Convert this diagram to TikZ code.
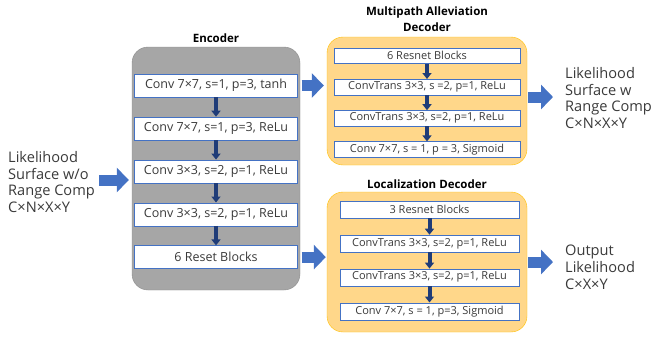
\documentclass[tikz,border=0pt]{standalone}
\usepackage{fontspec}
\setmainfont{Open Sans}
\usetikzlibrary{shapes,arrows,arrows.meta,positioning}
\definecolor{grayfill}{HTML}{A6A6A6}
\definecolor{grayedge}{HTML}{8C8C8C}
\definecolor{orangefill}{HTML}{FFD78A}
\definecolor{orangeedge}{HTML}{FFC000}
\definecolor{boxedge}{HTML}{4472C4}
\definecolor{bigblue}{HTML}{4472C4}
\definecolor{navy}{HTML}{1F3C78}
\definecolor{txt}{HTML}{3A3A3A}
\tikzstyle{group} = [rectangle, rounded corners=16pt, inner sep=0pt]
\tikzstyle{block} = [rectangle, draw=boxedge, fill=white, text=txt,
    text centered, inner sep=0pt, font=\fontsize{11}{12}\selectfont]
\tikzstyle{encblock} = [block, minimum width=163pt, minimum height=23pt,
    font=\fontsize{12.5}{14}\selectfont]
\tikzstyle{title} = [font=\bfseries\fontsize{11.5}{16}\selectfont, align=center]
\tikzstyle{side} = [text=txt, align=left, inner sep=0pt,
    font=\fontsize{14.6}{16.9}\selectfont]
\tikzstyle{flow} = [draw=navy, line width=4pt, -{Triangle[length=6pt,width=9pt]}]
\tikzstyle{big} = [draw=bigblue, line width=11pt, -{Triangle[length=12pt,width=24pt]}]

\begin{document}
\begin{tikzpicture}[x=1pt, y=-1pt, node distance=19.5pt]
    \useasboundingbox (0,0) rectangle (652,338);
    % encoder
    \node [group, fill=grayfill, draw=grayedge, minimum width=168pt,
        minimum height=243pt] (enc) at (216,168.5) {};
    \node [title, above=1pt of enc.north] {Encoder};
    \node [encblock, below=27pt of enc.north] (enc1) {Conv 7×7, s=1, p=3, tanh};
    \node [encblock, below=of enc1] (enc2) {Conv 7×7, s=1, p=3, ReLu};
    \node [encblock, below=of enc2] (enc3) {Conv 3×3, s=2, p=1, ReLu};
    \node [encblock, below=of enc3] (enc4) {Conv 3×3, s=2, p=1, ReLu};
    \node [encblock, below=of enc4] (enc5) {6 Reset Blocks};
    \foreach \a/\b in {enc1/enc2, enc2/enc3, enc3/enc4, enc4/enc5}
        \path [flow] (\a) -- (\b);

    % multipath alleviation decoder
    \node [group, fill=orangefill, draw=orangeedge, minimum width=200pt,
        minimum height=128pt] (mad) at (427,101) {};
    \node [title, above=2pt of mad.north] {Multipath Alleviation\\Decoder};
    \node [block, minimum width=186pt, minimum height=15.5pt,
        below=11pt of mad.north] (mad1) {6 Resnet Blocks};
    \node [block, minimum width=186pt, minimum height=15.5pt,
        below=15.3pt of mad1] (mad2) {ConvTrans 3×3, s =2, p=1, ReLu};
    \node [block, minimum width=186pt, minimum height=15.5pt,
        below=15.3pt of mad2] (mad3) {ConvTrans 3×3, s=2, p=1, ReLu};
    \node [block, minimum width=186pt, minimum height=15.5pt,
        below=15.3pt of mad3] (mad4) {Conv 7×7, s = 1, p = 3, Sigmoid};
    \foreach \a/\b in {mad1/mad2, mad2/mad3, mad3/mad4}
        \path [flow] (\a) -- (\b);

    % localization decoder
    \node [group, fill=orangefill, draw=orangeedge, minimum width=200pt,
        minimum height=140pt] (loc) at (427,262) {};
    \node [title, above=0pt of loc.north] {Localization Decoder};
    \node [block, minimum width=179pt, minimum height=17pt,
        below=9pt of loc.north, xshift=2.5pt] (loc1) {3 Resnet Blocks};
    \node [block, minimum width=179pt, minimum height=17pt,
        below=16.5pt of loc1] (loc2) {ConvTrans 3×3, s=2, p=1, ReLu};
    \node [block, minimum width=179pt, minimum height=17pt,
        below=16.5pt of loc2] (loc3) {ConvTrans 3×3, s=2, p=1, ReLu};
    \node [block, minimum width=179pt, minimum height=17pt,
        below=16.5pt of loc3] (loc4) {Conv 7×7, s = 1, p=3, Sigmoid};
    \foreach \a/\b in {loc1/loc2, loc2/loc3, loc3/loc4}
        \path [flow] (\a) -- (\b);

    % inputs and outputs
    \node [side, anchor=west] (lin) at (8,182)
        {Likelihood\\Surface w/o\\Range Comp\\C×N×X×Y};
    \node [side, anchor=west] (lout) at (565,98)
        {Likelihood\\Surface w\\Range Comp\\C×N×X×Y};
    \node [side, anchor=west] (pout) at (565,267)
        {Output\\Likelihood\\C×X×Y};

    \path [big, shorten <=4pt, shorten >=3pt]
        ([yshift=2pt]lin.east) -- ([yshift=2pt]lin.east -| enc.west);
    \path [big, shorten <=4pt, shorten >=3pt] (enc1.east) -- (enc1.east -| mad.west);
    \path [big, shorten <=4pt, shorten >=1pt] (enc5.east) -- (enc5.east -| loc.west);
    \path [big, shorten <=1pt, shorten >=12pt]
        ([yshift=4pt]mad.east) -- ([yshift=4pt]mad.east -| lout.west);
    \path [big, shorten <=1pt, shorten >=12pt] (loc.east) -- (loc.east -| pout.west);
\end{tikzpicture}
\end{document}
